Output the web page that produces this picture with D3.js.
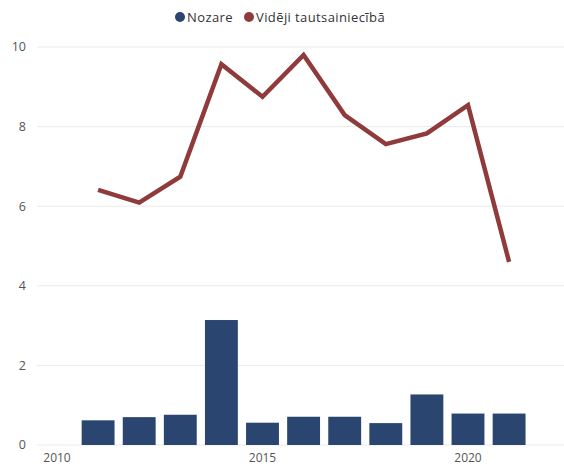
<!DOCTYPE html>
<html><head><meta charset="utf-8">
<script src="https://cdn.jsdelivr.net/npm/d3@7"></script>
<style>body{margin:0;background:#fff;} text{font-family:"Open Sans",sans-serif;}</style>
</head><body>
<svg id="c" width="564" height="466"></svg>
<script>
const years = [2011,2012,2013,2014,2015,2016,2017,2018,2019,2020,2021];
const nozare = [0.62,0.70,0.76,3.14,0.56,0.71,0.71,0.55,1.27,0.79,0.79];
const videji = [6.41,6.09,6.74,9.57,8.75,9.80,8.29,7.56,7.83,8.54,4.60];
const yTicks = [0,2,4,6,8,10];
const xTicks = [2010,2015,2020];
const seriesNames = ["Nozare","Vidēji tautsainiecībā"];
const colors = ["#2a4570","#8f3a3b"];

const svg = d3.select("#c");
const x = d3.scaleLinear().domain([2010,2020]).range([57,468]);
const y = d3.scaleLinear().domain([0,10]).range([445,47]);
const step = x(2011)-x(2010);
const bw = step*0.8;

// grid
svg.append("g").selectAll("line").data(yTicks).join("line")
  .attr("x1",37).attr("x2",564).attr("y1",d=>y(d)).attr("y2",d=>y(d))
  .attr("stroke","#ebebeb").attr("stroke-width",1);

// y labels
svg.append("g").selectAll("text").data(yTicks).join("text")
  .attr("x",26).attr("y",d=>y(d)).attr("dy","0.35em").attr("text-anchor","end")
  .attr("font-size",12.5).attr("fill","#555").text(d=>d);

// x labels
svg.append("g").selectAll("text").data(xTicks).join("text")
  .attr("x",d=>x(d)).attr("y",458).attr("dy","0.35em").attr("text-anchor","middle")
  .attr("font-size",12).attr("fill","#555").text(d=>d);

// bars
svg.append("g").selectAll("rect").data(years).join("rect")
  .attr("x",(d)=>x(d)-bw/2).attr("width",bw)
  .attr("y",(d,i)=>y(nozare[i])).attr("height",(d,i)=>y(0)-y(nozare[i]))
  .attr("fill",colors[0]);

// line
const line = d3.line().x((d,i)=>x(years[i])).y(d=>y(d));
svg.append("path").datum(videji).attr("d",line)
  .attr("fill","none").attr("stroke",colors[1]).attr("stroke-width",4.5)
  .attr("stroke-linejoin","miter").attr("stroke-linecap","butt");

// legend
const lg = svg.append("g");
const lx = [180,249];
seriesNames.forEach((n,i)=>{
  lg.append("circle").attr("cx",lx[i]).attr("cy",17).attr("r",5).attr("fill",colors[i]);
  lg.append("text").attr("x",lx[i]+7).attr("y",17).attr("dy","0.35em")
    .attr("font-size",13).attr("letter-spacing",0.4).attr("fill","#333").text(n);
});
</script>
</body></html>
